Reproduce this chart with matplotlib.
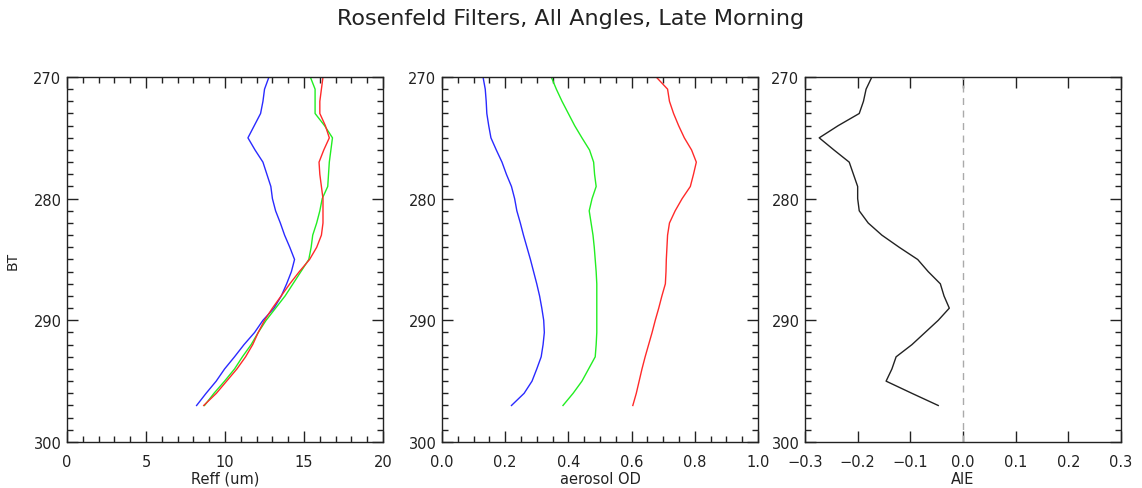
import numpy as np
import matplotlib
matplotlib.use("Agg")
import matplotlib.pyplot as plt
from matplotlib.ticker import MultipleLocator

bt = list(range(270, 298))

reff_blue = [12.78, 12.5, 12.4, 12.25, 11.85, 11.45, 11.9, 12.4, 12.65, 12.9, 13.0, 13.2,
             13.5, 13.77, 14.1, 14.4, 14.2, 13.9, 13.56, 13.1, 12.4, 11.87, 11.2, 10.6,
             9.97, 9.44, 8.8, 8.2]
reff_green = [15.4, 15.7, 15.7, 15.7, 16.3, 16.8, 16.7, 16.6, 16.55, 16.5, 16.15, 16.0,
              15.8, 15.55, 15.45, 15.3, 14.8, 14.3, 13.8, 13.2, 12.6, 12.1, 11.65, 11.1,
              10.6, 9.97, 9.3, 8.7]
reff_red = [16.2, 16.1, 16.0, 16.0, 16.35, 16.6, 16.25, 15.95, 16.0, 16.1, 16.2, 16.2,
            16.2, 16.1, 15.8, 15.35, 14.7, 14.1, 13.55, 13.0, 12.5, 12.1, 11.75, 11.3,
            10.75, 10.1, 9.45, 8.65]

aod_blue = [0.13, 0.137, 0.14, 0.142, 0.148, 0.155, 0.172, 0.19, 0.204, 0.22, 0.23, 0.237,
            0.248, 0.258, 0.269, 0.28, 0.29, 0.30, 0.309, 0.316, 0.322, 0.324, 0.32, 0.314,
            0.30, 0.285, 0.26, 0.22]
aod_green = [0.346, 0.362, 0.38, 0.40, 0.42, 0.443, 0.467, 0.48, 0.483, 0.488, 0.475, 0.466,
             0.472, 0.478, 0.482, 0.485, 0.488, 0.49, 0.49, 0.49, 0.49, 0.49, 0.488, 0.485,
             0.464, 0.443, 0.415, 0.383]
aod_red = [0.678, 0.714, 0.72, 0.733, 0.749, 0.767, 0.79, 0.805, 0.796, 0.786, 0.76, 0.738,
           0.72, 0.714, 0.712, 0.71, 0.709, 0.707, 0.696, 0.686, 0.675, 0.665, 0.654, 0.643,
           0.633, 0.624, 0.615, 0.604]

aie = [-0.173, -0.184, -0.189, -0.197, -0.237, -0.273, -0.245, -0.216, -0.208, -0.20, -0.20,
       -0.197, -0.18, -0.154, -0.121, -0.086, -0.066, -0.043, -0.036, -0.026, -0.047, -0.072,
       -0.097, -0.127, -0.135, -0.146, -0.097, -0.047]

title = "Rosenfeld Filters, All Angles, Late Morning"

fig = plt.figure(figsize=(11.42, 4.89), dpi=100)
plt.rcParams['font.family'] = ['DejaVu Sans']

W = 0.2767
B = 0.0941
H = 0.7464
lefts = [0.0587, 0.387, 0.7049]
axes = [fig.add_axes([l, B, W, H]) for l in lefts]


def style(ax, xlim, xmajor, xminor, xlabel, ylabel=None):
    ax.set_ylim(300, 270)
    ax.set_xlim(*xlim)
    ax.yaxis.set_major_locator(MultipleLocator(10))
    ax.yaxis.set_minor_locator(MultipleLocator(1))
    ax.xaxis.set_major_locator(MultipleLocator(xmajor))
    if xminor:
        ax.xaxis.set_minor_locator(MultipleLocator(xminor))
    else:
        ax.xaxis.set_minor_locator(matplotlib.ticker.NullLocator())
    ax.tick_params(which='both', direction='in', top=True, right=True,
                   labelsize=10.5, width=1.0, colors='#222222', labelcolor='#222222')
    ax.tick_params(which='major', length=8)
    ax.tick_params(which='minor', length=4)
    ax.tick_params(axis='x', which='major', pad=9)
    ax.tick_params(axis='y', which='major', pad=4)
    for s in ax.spines.values():
        s.set_linewidth(1.0)
        s.set_color('#222222')
    ax.set_xlabel(xlabel, fontsize=10.5, labelpad=1, color='#222222')
    if ylabel:
        ax.set_ylabel(ylabel, fontsize=10, labelpad=10, color='#222222')


ax1, ax2, ax3 = axes
ax1.plot(reff_blue, bt, color='#2a2aff', lw=1.0)
ax1.plot(reff_green, bt, color='#22ee22', lw=1.0)
ax1.plot(reff_red, bt, color='#ff2a2a', lw=1.0)
style(ax1, (0, 20), 5, 1, "Reff (um)", "BT")
ax1.xaxis.set_major_formatter(matplotlib.ticker.FormatStrFormatter('%d'))

ax2.plot(aod_blue, bt, color='#2a2aff', lw=1.0)
ax2.plot(aod_green, bt, color='#22ee22', lw=1.0)
ax2.plot(aod_red, bt, color='#ff2a2a', lw=1.0)
style(ax2, (0, 1), 0.2, 0.05, "aerosol OD")
ax2.xaxis.set_major_formatter(matplotlib.ticker.FormatStrFormatter('%.1f'))

ax3.plot(aie, bt, color='#222222', lw=1.0)
ax3.axvline(0.0, color='#aaaaaa', lw=1.0, ls=(0, (5, 4)))
style(ax3, (-0.3, 0.3), 0.1, None, "AIE")
ax3.xaxis.set_major_formatter(matplotlib.ticker.FuncFormatter(
    lambda v, p: ("%.1f" % v).replace("-", "\u2212") if abs(v) > 1e-9 else "0.0"))

for ax in axes:
    ax.yaxis.set_major_formatter(matplotlib.ticker.FormatStrFormatter('%d'))

fig.suptitle(title, y=0.982, fontsize=16, color='#222222')

fig.savefig("out.png", dpi=100)
